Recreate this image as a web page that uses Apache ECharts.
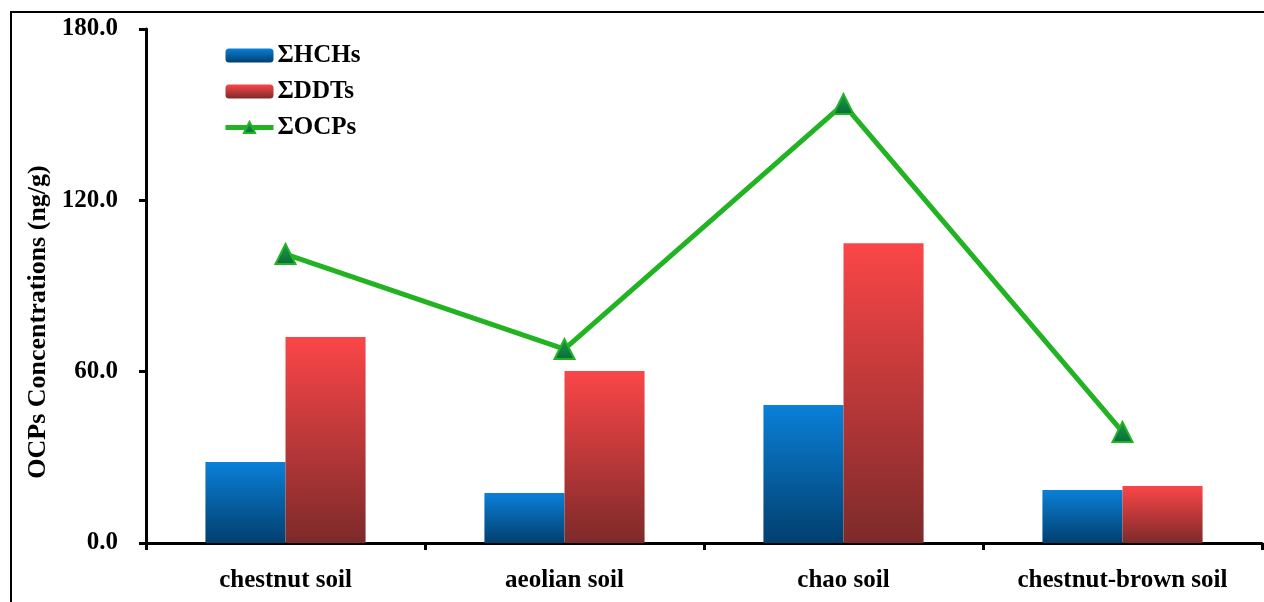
<!DOCTYPE html>
<html><head><meta charset="utf-8">
<script src="https://cdn.jsdelivr.net/npm/echarts@6/dist/echarts.min.js"></script>
<style>html,body{margin:0;padding:0;background:#fff}#c{width:1264px;height:602px}</style>
</head><body><div id="c"></div>
<script>
const categories = ['chestnut soil', 'aeolian soil', 'chao soil', 'chestnut-brown soil'];
const hchValues = [28.4, 17.5, 48.3, 18.6];
const ddtValues = [72.1, 60.2, 105.0, 20.0];
const ocpValues = [101.2, 67.9, 153.7, 38.9];
const yTicks = [0, 60, 120, 180];

const font = '"Liberation Serif", "Times New Roman", serif';
const chart = echarts.init(document.getElementById('c'));
const grad = (top, bottom) => new echarts.graphic.LinearGradient(0, 0, 0, 1, [
  {offset: 0, color: top}, {offset: 1, color: bottom}]);
chart.setOption({
  animation: false,
  backgroundColor: '#fff',
  graphic: [{type: 'rect', shape: {x: 11, y: 12, width: 1300, height: 700},
    style: {fill: 'none', stroke: '#000', lineWidth: 2}, z: 100}],
  grid: {left: 146, right: 2, top: 29, bottom: 59},
  legend: {
    left: 218, top: 38, orient: 'vertical', itemWidth: 48, itemHeight: 14, itemGap: 11,
    textStyle: {fontFamily: font, fontWeight: 'bold', fontSize: 25, lineHeight: 25, color: '#000', padding: [0,0,0,-1]},
    data: ['ΣHCHs', 'ΣDDTs', {name: 'ΣOCPs', lineStyle: {width: 5}}]
  },
  xAxis: {
    type: 'category', data: categories,
    axisLine: {lineStyle: {color: '#000', width: 3}},
    axisTick: {show: true, length: 7, lineStyle: {width: 3, color: '#000'}},
    axisLabel: {fontFamily: font, fontWeight: 'bold', fontSize: 25, color: '#000', margin: 25}
  },
  yAxis: {
    type: 'value', min: 0, max: 180, interval: 60,
    name: 'OCPs Concentrations (ng/g)', nameLocation: 'middle', nameGap: 93,
    nameTextStyle: {fontFamily: font, fontWeight: 'bold', fontSize: 26, color: '#000', padding: [0, 72, 0, 0]},
    splitLine: {show: false},
    axisLine: {show: true, lineStyle: {color: '#000', width: 3}},
    axisTick: {show: true, length: 7, lineStyle: {width: 3, color: '#000'}},
    axisLabel: {fontFamily: font, fontWeight: 'bold', fontSize: 25, color: '#000', margin: 28,
      formatter: v => yTicks.includes(v) ? v.toFixed(1) : ''}
  },
  series: [
    {name: 'ΣHCHs', type: 'bar', data: hchValues, barGap: '0%', barCategoryGap: '42.6%',
      itemStyle: {color: grad('#0a80d8', '#023f6e')}},
    {name: 'ΣDDTs', type: 'bar', data: ddtValues,
      itemStyle: {color: grad('#fb4648', '#7d2a2a')}},
    {name: 'ΣOCPs', type: 'line', data: ocpValues, symbol: 'triangle', symbolSize: 20,
      lineStyle: {color: '#22b322', width: 5},
      itemStyle: {color: grad('#1f9a4a', '#076b3a'), borderColor: '#22b322', borderWidth: 2}}
  ]
});
</script></body></html>
